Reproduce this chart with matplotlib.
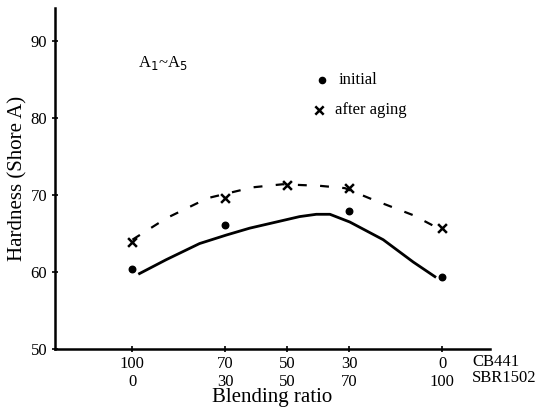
import matplotlib.pyplot as plt
import numpy as np

plt.rcParams['font.family'] = ['Liberation Serif', 'DejaVu Serif']

# Blend composition: SBR1502 share (CB441 = 100 - SBR)
sbr = [0, 30, 50, 70, 100]
cb441 = [100, 70, 50, 30, 0]

# Measured hardness (Shore A)
initial = [60.4, 66.1, None, 67.9, 59.4]
aged = [63.9, 69.6, 71.3, 70.9, 65.7]

# Hand-drawn trend curves
initial_curve_x = [2.3, 10.9, 21.7, 30.3, 37.9, 46.5, 54.0, 59.4, 63.8, 70.2, 81.0, 90.7, 97.7]
initial_curve_y = [59.8, 61.6, 63.7, 64.8, 65.7, 66.5, 67.2, 67.5, 67.5, 66.5, 64.2, 61.3, 59.4]
aged_curve_x = [0, 11, 24.3, 38.8, 48.5, 60.5, 68.6, 77.7, 90.6, 98.7]
aged_curve_y = [64.2, 67.0, 69.6, 71.0, 71.4, 71.2, 70.9, 69.4, 67.4, 65.7]

fig = plt.figure(figsize=(5.45, 4.13), dpi=100)
ax = fig.add_axes([55/545, 64/413, 435/545, 341/413])

ax.plot(initial_curve_x, initial_curve_y, color='black', lw=2.0)
ax.plot(aged_curve_x, aged_curve_y, color='black', lw=1.6, ls=(0, (4, 6)))

ix = [x for x, v in zip(sbr, initial) if v is not None]
iv = [v for v in initial if v is not None]
ax.scatter(ix, iv, s=22, color='black', marker='o', zorder=3)
ax.scatter(sbr, aged, s=40, color='black', marker='x', linewidths=1.8, zorder=3)

ax.set_xlim(-25, 115.5)
ax.set_ylim(50, 94.3)
ax.set_yticks([50, 60, 70, 80, 90])
ax.set_xticks(sbr)
ax.set_xticklabels([f"{c}\n{s}" for c, s in zip(cb441, sbr)], linespacing=1.2)
ax.tick_params(axis='both', direction='inout', length=4, width=1.2, labelsize=12)
ax.tick_params(axis='x', pad=3)

for side in ('top', 'right'):
    ax.spines[side].set_visible(False)
for side in ('left', 'bottom'):
    ax.spines[side].set_linewidth(1.8)

ax.set_ylabel('Hardness (Shore A)', fontsize=15, labelpad=2)
ax.set_xlabel('Blending ratio', fontsize=15, labelpad=-2)

ax.text(0.19, 0.84, r'A$_1$~A$_5$', transform=ax.transAxes, fontsize=12, va='center')
ax.scatter([61.2], [84.9], s=20, color='black', marker='o', clip_on=False)
ax.text(66.5, 84.9, 'initial', fontsize=12, va='center')
ax.scatter([60.2], [81.0], s=36, color='black', marker='x', linewidths=1.8, clip_on=False)
ax.text(65.5, 81.0, 'after aging', fontsize=12, va='center')

ax.text(472, 413 - 362, 'CB441', transform=None, fontsize=12, va='center')
ax.text(472, 413 - 378, 'SBR1502', transform=None, fontsize=12, va='center')

fig.savefig('out.png', dpi=100)
